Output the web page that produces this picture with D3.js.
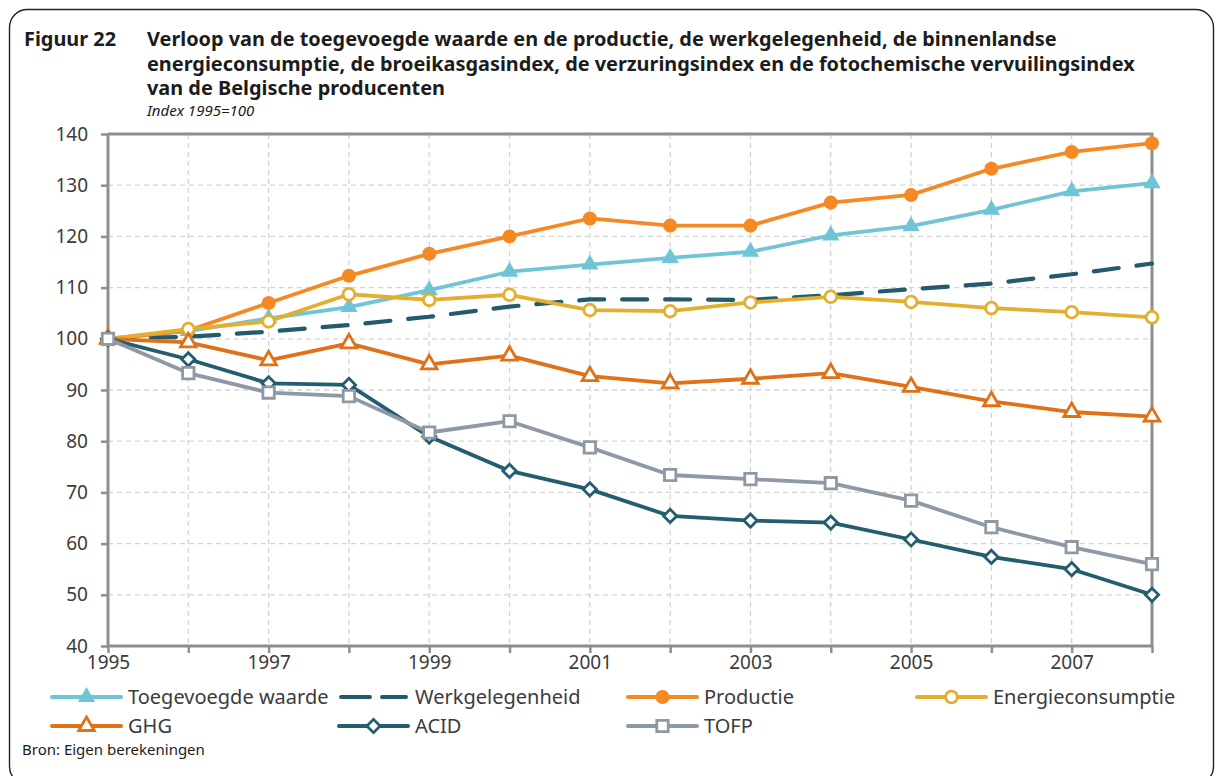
<!DOCTYPE html>
<html>
<head>
<meta charset="utf-8">
<script src="https://cdn.jsdelivr.net/npm/d3@7/dist/d3.min.js"></script>
<style>
  html, body { margin: 0; padding: 0; background: #fff; }
  svg { display: block; }
</style>
</head>
<body>
<svg id="chart" width="1215" height="776"></svg>
<script>
// Index 1995 = 100, Belgische producenten
const years = [1995, 1996, 1997, 1998, 1999, 2000, 2001, 2002, 2003, 2004, 2005, 2006, 2007, 2008];
const toegevoegdeWaarde = [100, 101.5, 104, 106.2, 109.5, 113.1, 114.5, 115.8, 117, 120.2, 122, 125.2, 128.8, 130.4];
const werkgelegenheid   = [100, 100.4, 101.4, 102.7, 104.3, 106.3, 107.7, 107.7, 107.6, 108.5, 109.7, 110.8, 112.6, 114.7];
const productie         = [100, 101.6, 107, 112.3, 116.6, 120, 123.5, 122.1, 122.1, 126.6, 128.1, 133.2, 136.5, 138.2];
const energieconsumptie = [100, 101.9, 103.4, 108.7, 107.6, 108.6, 105.6, 105.4, 107.1, 108.2, 107.2, 106, 105.2, 104.2];
const ghg               = [100, 99.3, 95.8, 99.1, 95, 96.7, 92.7, 91.3, 92.2, 93.3, 90.6, 87.8, 85.7, 84.8];
const acid              = [100, 96, 91.3, 91, 80.9, 74.2, 70.6, 65.4, 64.5, 64.1, 60.8, 57.4, 55, 50];
const tofp              = [100, 93.3, 89.5, 88.8, 81.7, 83.9, 78.8, 73.4, 72.6, 71.8, 68.4, 63.2, 59.3, 56];

const seriesNames = ["Toegevoegde waarde", "Werkgelegenheid", "Productie", "Energieconsumptie", "GHG", "ACID", "TOFP"];
const yTicks = [40, 50, 60, 70, 80, 90, 100, 110, 120, 130, 140];
const xTickLabels = [1995, 1997, 1999, 2001, 2003, 2005, 2007];

const titleLabel = "Figuur 22";
const titleLines = [
  "Verloop van de toegevoegde waarde en de productie, de werkgelegenheid, de binnenlandse",
  "energieconsumptie, de broeikasgasindex, de verzuringsindex en de fotochemische vervuilingsindex",
  "van de Belgische producenten"
];
const subtitle = "Index 1995=100";
const sourceNote = "Bron: Eigen berekeningen";

// ---- styling per series ----
const styles = [
  { values: toegevoegdeWaarde, color: "#6fc5d5", symbol: "triangle", filled: true },
  { values: werkgelegenheid,   color: "#235b6d", symbol: null, dashed: true },
  { values: productie,         color: "#f58a25", symbol: "circle", filled: true },
  { values: energieconsumptie, color: "#e4ae2f", symbol: "circle", filled: false },
  { values: ghg,               color: "#df7119", symbol: "triangle", filled: false },
  { values: acid,              color: "#235d6e", symbol: "diamond", filled: false },
  { values: tofp,              color: "#8f99a5", symbol: "square", filled: false }
];

const svg = d3.select("#chart");
const FONT = "'Noto Sans', 'DejaVu Sans', sans-serif";
const TEXT = "#3b3b3b";

// outer rounded frame
svg.append("rect")
  .attr("x", 9.5).attr("y", 9.5)
  .attr("width", 1204).attr("height", 775)
  .attr("rx", 18).attr("ry", 18)
  .attr("fill", "none").attr("stroke", "#222").attr("stroke-width", 1.4);

// ---- title block ----
const titleG = svg.append("g").attr("font-family", FONT).attr("font-weight", "bold").attr("fill", "#1c1c1c");
titleG.append("text").attr("x", 24).attr("y", 46).text(titleLabel);
const lineTs = titleLines.map((t, i) =>
  titleG.append("text").attr("x", 147).attr("y", 46 + i * 24.5).text(t));
// size the heading so its first line spans the intended width
let fs = 17;
lineTs[0].attr("font-size", fs);
const w0 = lineTs[0].node().getComputedTextLength();
fs = fs * 910 / w0;
titleG.selectAll("text").attr("font-size", fs);

svg.append("text")
  .attr("x", 147).attr("y", 116)
  .attr("font-family", FONT).attr("font-style", "italic").attr("font-size", 15)
  .attr("fill", "#1c1c1c").text(subtitle);

// ---- scales ----
const x = d3.scaleLinear().domain([1995, 2008]).range([108, 1152]);
const y = d3.scaleLinear().domain([40, 140]).range([646, 134]);

// ---- grid ----
const grid = svg.append("g").attr("stroke", "#d3d3d3").attr("stroke-width", 1.3).attr("stroke-dasharray", "5,4");
grid.selectAll("line.h").data(yTicks.filter(v => v > 40 && v < 140)).join("line")
  .attr("x1", x(1995)).attr("x2", x(2008))
  .attr("y1", d => y(d)).attr("y2", d => y(d));
grid.selectAll("line.v").data(years.filter(v => v > 1995 && v < 2008)).join("line")
  .attr("x1", d => x(d)).attr("x2", d => x(d))
  .attr("y1", y(140)).attr("y2", y(40));

// ---- axes ----
const AX = "#8e8e8e";
const yAxis = svg.append("g").attr("transform", `translate(${x(1995)},0)`)
  .call(d3.axisLeft(y).tickValues(yTicks).tickSize(7).tickPadding(13).tickFormat(d3.format("d")));
const xAxis = svg.append("g").attr("transform", `translate(0,${y(40)})`)
  .call(d3.axisBottom(x).tickValues(years).tickSize(7).tickPadding(3)
    .tickFormat(d => xTickLabels.includes(d) ? String(d) : ""));
[yAxis, xAxis].forEach(g => {
  g.select(".domain").attr("stroke", AX).attr("stroke-width", 3);
  g.selectAll(".tick line").attr("stroke", AX).attr("stroke-width", 2.5);
  g.selectAll(".tick text").attr("fill", TEXT).attr("font-family", FONT).attr("font-size", 19);
});
xAxis.select(".domain").attr("d", `M${x(1995)},0H${x(2008)}`);
yAxis.select(".domain").attr("d", `M0,${y(40)}V${y(140)}`);

// top and right frame of the plot area
svg.append("path")
  .attr("d", `M${x(1995)},${y(140)}H${x(2008)}V${y(40)}`)
  .attr("fill", "none").attr("stroke", AX).attr("stroke-width", 3);

// ---- symbols ----
function symbolPath(kind, size) {
  if (kind === "triangle") return d3.symbol(d3.symbolTriangle, size)();
  if (kind === "circle") return d3.symbol(d3.symbolCircle, size)();
  if (kind === "square") return d3.symbol(d3.symbolSquare, size)();
  if (kind === "diamond") return d3.symbol(d3.symbolSquare, size)();
  return null;
}
function symbolSize(s) {
  if (s.symbol === "triangle") return s.filled ? 130 : 105;
  if (s.symbol === "circle") return s.filled ? 155 : 108;
  if (s.symbol === "square") return 130;
  if (s.symbol === "diamond") return 88;
  return 0;
}
function drawMarker(g, s, cx, cy) {
  const p = g.append("path")
    .attr("d", symbolPath(s.symbol, symbolSize(s)))
    .attr("transform", `translate(${cx},${cy})` + (s.symbol === "diamond" ? " rotate(45)" : ""));
  if (s.filled) p.attr("fill", s.color).attr("stroke", "none");
  else p.attr("fill", "#fff").attr("stroke", s.color).attr("stroke-width", 2.8);
}

// ---- series ----
const line = d3.line().x((d, i) => x(years[i])).y(d => y(d));
const plot = svg.append("g");
styles.forEach(s => {
  const g = plot.append("g");
  const p = g.append("path").datum(s.values)
    .attr("d", line)
    .attr("fill", "none").attr("stroke", s.color).attr("stroke-width", 3.8)
    .attr("stroke-linejoin", "round");
  if (s.dashed) p.attr("stroke-dasharray", "25,18").attr("stroke-linecap", "round").attr("stroke-width", 4.2);
  if (s.symbol) s.values.forEach((v, i) => drawMarker(g, s, x(years[i]), y(v)));
});

// ---- legend ----
const legendCols = [52, 339, 628, 917];
const legendRows = [697, 726];
const legendLineLen = 69;
const legend = svg.append("g");
styles.forEach((s, i) => {
  const lx = legendCols[i % 4], ly = legendRows[Math.floor(i / 4)];
  const g = legend.append("g");
  const ln = g.append("line")
    .attr("x1", lx).attr("x2", lx + legendLineLen).attr("y1", ly).attr("y2", ly)
    .attr("stroke", s.color).attr("stroke-width", 4);
  if (s.dashed) ln.attr("stroke-dasharray", "29,12").attr("stroke-linecap", "round")
    .attr("x1", lx + 2).attr("x2", lx + legendLineLen - 2);
  else ln.attr("stroke-linecap", "round");
  if (s.symbol) drawMarker(g, s, lx + legendLineLen / 2, ly);
  g.append("text")
    .attr("x", lx + legendLineLen + 7).attr("y", ly).attr("dy", "0.35em")
    .attr("font-family", FONT).attr("font-size", 20).attr("fill", TEXT)
    .text(seriesNames[i]);
});

svg.append("text")
  .attr("x", 22).attr("y", 755)
  .attr("font-family", FONT).attr("font-size", 15).attr("fill", "#1c1c1c")
  .text(sourceNote);
</script>
</body>
</html>
